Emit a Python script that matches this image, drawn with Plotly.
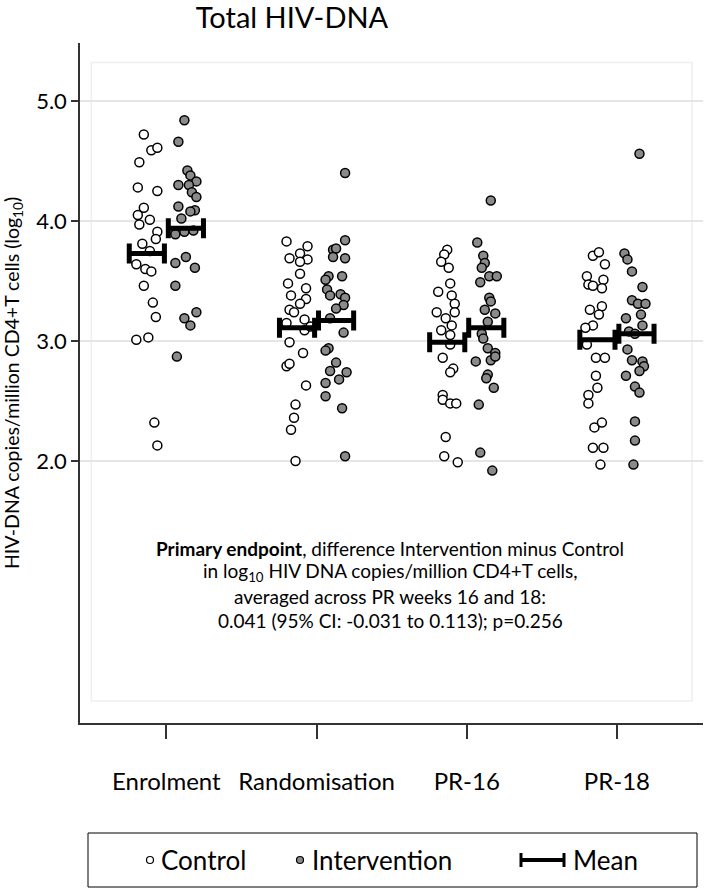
import numpy as np
import plotly.graph_objects as go

# categories (timepoints)
visits = ["Enrolment", "Randomisation", "PR-16", "PR-18"]

# log10 HIV-DNA copies / million CD4+T cells
ctrl_enrol = [4.72, 4.59, 4.61, 4.49, 4.28, 4.25, 4.11, 4.05, 4.01, 3.97, 3.91, 3.85,
              3.81, 3.64, 3.60, 3.58, 3.46, 3.32, 3.20, 3.01, 3.03, 2.32, 2.13, 3.75]
ctrl_rand = [3.83, 3.79, 3.73, 3.69, 3.68, 3.66, 3.56, 3.48, 3.44, 3.38, 3.35, 3.31,
             3.26, 3.24, 3.18, 3.15, 3.09, 3.12, 2.99, 2.90, 2.79, 2.81, 2.63, 2.47,
             2.36, 2.26, 2.00]
ctrl_pr16 = [3.76, 3.72, 3.66, 3.61, 3.48, 3.41, 3.38, 3.31, 3.24, 3.24, 3.19, 3.13,
             3.09, 3.05, 2.97, 2.86, 2.77, 2.74, 2.55, 2.51, 2.48, 2.48, 2.20, 2.04, 1.99]
ctrl_pr18 = [3.71, 3.74, 3.64, 3.54, 3.51, 3.47, 3.46, 3.44, 3.26, 3.29, 3.22, 3.13,
             3.11, 2.97, 2.86, 2.86, 2.71, 2.61, 2.55, 2.48, 2.28, 2.32, 2.11, 2.11, 1.97]

int_enrol = [4.84, 4.66, 4.42, 4.38, 4.33, 4.30, 4.30, 4.24, 4.20, 4.12, 4.09, 4.08,
             4.02, 3.89, 3.91, 3.92, 3.70, 3.65, 3.61, 3.46, 3.24, 3.19, 3.13, 2.87]
int_rand = [4.40, 3.84, 3.76, 3.77, 3.70, 3.69, 3.54, 3.54, 3.51, 3.43, 3.39, 3.38,
            3.36, 3.30, 3.27, 3.19, 3.07, 2.94, 2.92, 2.82, 2.75, 2.74, 2.68, 2.65,
            2.54, 2.44, 2.04]
int_pr16 = [4.17, 3.82, 3.71, 3.65, 3.61, 3.54, 3.54, 3.49, 3.36, 3.33, 3.26, 3.23,
            3.16, 3.06, 3.02, 2.94, 2.90, 2.83, 2.84, 2.87, 2.72, 2.69, 2.61, 2.47,
            2.07, 1.92]
int_pr18 = [4.56, 3.73, 3.68, 3.58, 3.45, 3.34, 3.31, 3.31, 3.22, 3.19, 3.13, 3.08,
            3.06, 2.93, 2.84, 2.83, 2.79, 2.75, 2.71, 2.62, 2.57, 2.33, 2.17, 1.97]

# horizontal jitter of each dot (category units)
ctrl_jit = [
    [-0.15, -0.10, -0.06, -0.18, -0.19, -0.06, -0.15, -0.19, -0.11, -0.18, -0.06, -0.07,
     -0.16, -0.20, -0.14, -0.10, -0.15, -0.09, -0.07, -0.20, -0.12, -0.08, -0.06, -0.11],
    [-0.20, -0.06, -0.11, -0.18, -0.06, -0.11, -0.11, -0.19, -0.07, -0.17, -0.07, -0.11,
     -0.18, -0.15, -0.08, -0.20, -0.08, -0.04, -0.18, -0.09, -0.20, -0.18, -0.07, -0.14,
     -0.15, -0.17, -0.14],
    [-0.13, -0.15, -0.17, -0.12, -0.11, -0.19, -0.10, -0.08, -0.20, -0.08, -0.14, -0.10,
     -0.17, -0.11, -0.11, -0.16, -0.09, -0.11, -0.16, -0.16, -0.11, -0.07, -0.14, -0.15, -0.06],
    [-0.16, -0.12, -0.08, -0.20, -0.09, -0.19, -0.16, -0.10, -0.18, -0.10, -0.12, -0.16,
     -0.21, -0.20, -0.14, -0.08, -0.14, -0.13, -0.19, -0.19, -0.15, -0.10, -0.16, -0.09, -0.11],
]
int_jit = [
    [0.12, 0.08, 0.14, 0.16, 0.20, 0.08, 0.15, 0.17, 0.20, 0.08, 0.19, 0.16,
     0.10, 0.06, 0.12, 0.18, 0.13, 0.06, 0.19, 0.06, 0.20, 0.12, 0.16, 0.07],
    [0.19, 0.19, 0.11, 0.13, 0.11, 0.19, 0.17, 0.08, 0.06, 0.07, 0.16, 0.09,
     0.19, 0.18, 0.13, 0.09, 0.18, 0.08, 0.06, 0.13, 0.09, 0.20, 0.15, 0.06,
     0.06, 0.17, 0.19],
    [0.16, 0.07, 0.11, 0.12, 0.10, 0.15, 0.20, 0.09, 0.15, 0.16, 0.12, 0.19,
     0.14, 0.10, 0.11, 0.14, 0.19, 0.06, 0.16, 0.19, 0.14, 0.13, 0.18, 0.08, 0.09, 0.17],
    [0.15, 0.05, 0.07, 0.10, 0.17, 0.10, 0.14, 0.19, 0.16, 0.06, 0.17, 0.08,
     0.12, 0.07, 0.10, 0.17, 0.18, 0.15, 0.06, 0.12, 0.15, 0.12, 0.12, 0.11],
]

ctrl_mean = [3.73, 3.11, 2.99, 3.01]
int_mean = [3.94, 3.17, 3.11, 3.06]

note_lines = [
    "<b>Primary endpoint</b>, difference Intervention minus Control",
    "in log<sub>10</sub> HIV DNA copies/million CD4+T cells,",
    "averaged across PR weeks 16 and 18:",
    "0.041 (95% CI: -0.031 to 0.113); p=0.256",
]

FONT = "Lato, 'Open Sans', sans-serif"
W, H = 709, 892
L, R, T, B = 80, 6, 43, 169


def px_x(px):
    return (px - L) / (W - L - R)


def px_y(py):
    return (H - B - py) / (H - T - B)


ctrl = [ctrl_enrol, ctrl_rand, ctrl_pr16, ctrl_pr18]
interv = [int_enrol, int_rand, int_pr16, int_pr18]

cx, cy, ix, iy = [], [], [], []
for i in range(len(visits)):
    cx += list(i + np.array(ctrl_jit[i]))
    cy += ctrl[i]
    ix += list(i + np.array(int_jit[i]))
    iy += interv[i]

fig = go.Figure()
fig.add_trace(go.Scatter(
    x=cx, y=cy, mode="markers", name="Control",
    marker=dict(size=9, color="white", line=dict(color="black", width=1.5)),
))
fig.add_trace(go.Scatter(
    x=ix, y=iy, mode="markers", name="Intervention",
    marker=dict(size=9, color="#8a8a8a", line=dict(color="black", width=1.5)),
))
pos = np.arange(len(visits))
for off, means in [(-0.13, ctrl_mean), (0.13, int_mean)]:
    fig.add_trace(go.Scatter(
        x=pos + off, y=means, mode="markers", name="Mean",
        marker=dict(size=1, opacity=0),
        error_x=dict(type="constant", value=0.117, thickness=5, width=10, color="black"),
    ))

# Stata-like inner plot region
fig.add_shape(type="rect", xref="x", yref="y", x0=-0.5, x1=3.5, y0=0, y1=5.32,
              line=dict(color="#efefef", width=1.5), layer="below")

# primary endpoint note, one annotation per line
for line, yy in zip(note_lines, [548, 572, 596, 620]):
    fig.add_annotation(
        xref="paper", yref="paper", x=px_x(390), y=px_y(yy), showarrow=False,
        text=line, font=dict(family=FONT, size=19, color="black"),
        xanchor="center", yanchor="middle",
    )

# legend box drawn below the axes
fig.add_shape(type="rect", xref="paper", yref="paper",
              x0=px_x(88), x1=px_x(697), y0=px_y(887), y1=px_y(833),
              line=dict(color="black", width=1))
ly = 860
for cxp, fill in [(150, "white"), (300, "#8a8a8a")]:
    fig.add_shape(type="circle", xref="paper", yref="paper",
                  x0=px_x(cxp - 3.5), x1=px_x(cxp + 3.5), y0=px_y(ly + 3.5), y1=px_y(ly - 3.5),
                  line=dict(color="black", width=1.2), fillcolor=fill)
fig.add_shape(type="line", xref="paper", yref="paper", x0=px_x(520), x1=px_x(565),
              y0=px_y(ly), y1=px_y(ly), line=dict(color="black", width=4))
for xe in (521, 564):
    fig.add_shape(type="line", xref="paper", yref="paper", x0=px_x(xe), x1=px_x(xe),
                  y0=px_y(ly - 7), y1=px_y(ly + 7), line=dict(color="black", width=3))
for tx, label in [(159, "Control"), (310, "Intervention"), (571, "Mean")]:
    fig.add_annotation(xref="paper", yref="paper", x=px_x(tx), y=px_y(ly), text=label,
                       showarrow=False, xanchor="left", yanchor="middle",
                       font=dict(family=FONT, size=26, color="black"))

fig.update_layout(
    width=W, height=H, margin=dict(l=L, r=R, t=T, b=B),
    paper_bgcolor="white", plot_bgcolor="white", showlegend=False,
    font=dict(family=FONT, color="black"),
    title=dict(text="Total HIV-DNA", x=292 / W, y=1 - 18 / H, xref="container",
               yref="container", xanchor="center", yanchor="middle",
               font=dict(family=FONT, size=29, color="black")),
)
fig.update_xaxes(
    range=[-0.575, 3.573], tickvals=list(pos), ticktext=visits,
    showgrid=False, zeroline=False, showline=True, linecolor="#333", linewidth=1.5,
    ticks="outside", ticklen=14, tickwidth=1.5, tickcolor="#333", ticklabelstandoff=22,
    tickfont=dict(family=FONT, size=24, color="black"),
)
fig.update_yaxes(
    range=[-0.183, 5.483], tickvals=[2, 3, 4, 5], ticktext=["2.0", "3.0", "4.0", "5.0"],
    showgrid=True, gridcolor="#e6e6e6", gridwidth=1.5, zeroline=False,
    showline=True, linecolor="#333", linewidth=1.5,
    ticks="outside", ticklen=7, tickwidth=1.5, tickcolor="#333",
    tickfont=dict(family=FONT, size=22, color="black"),
    title=dict(text="HIV-DNA copies/million CD4+T cells (log<sub>10</sub>)", standoff=12,
               font=dict(family=FONT, size=19.5, color="black")),
)

# page has a default body margin; remove it so the figure fills the window
fig.write_html("out.html", config={"displayModeBar": False},
               post_script="document.body.style.margin='0';")
